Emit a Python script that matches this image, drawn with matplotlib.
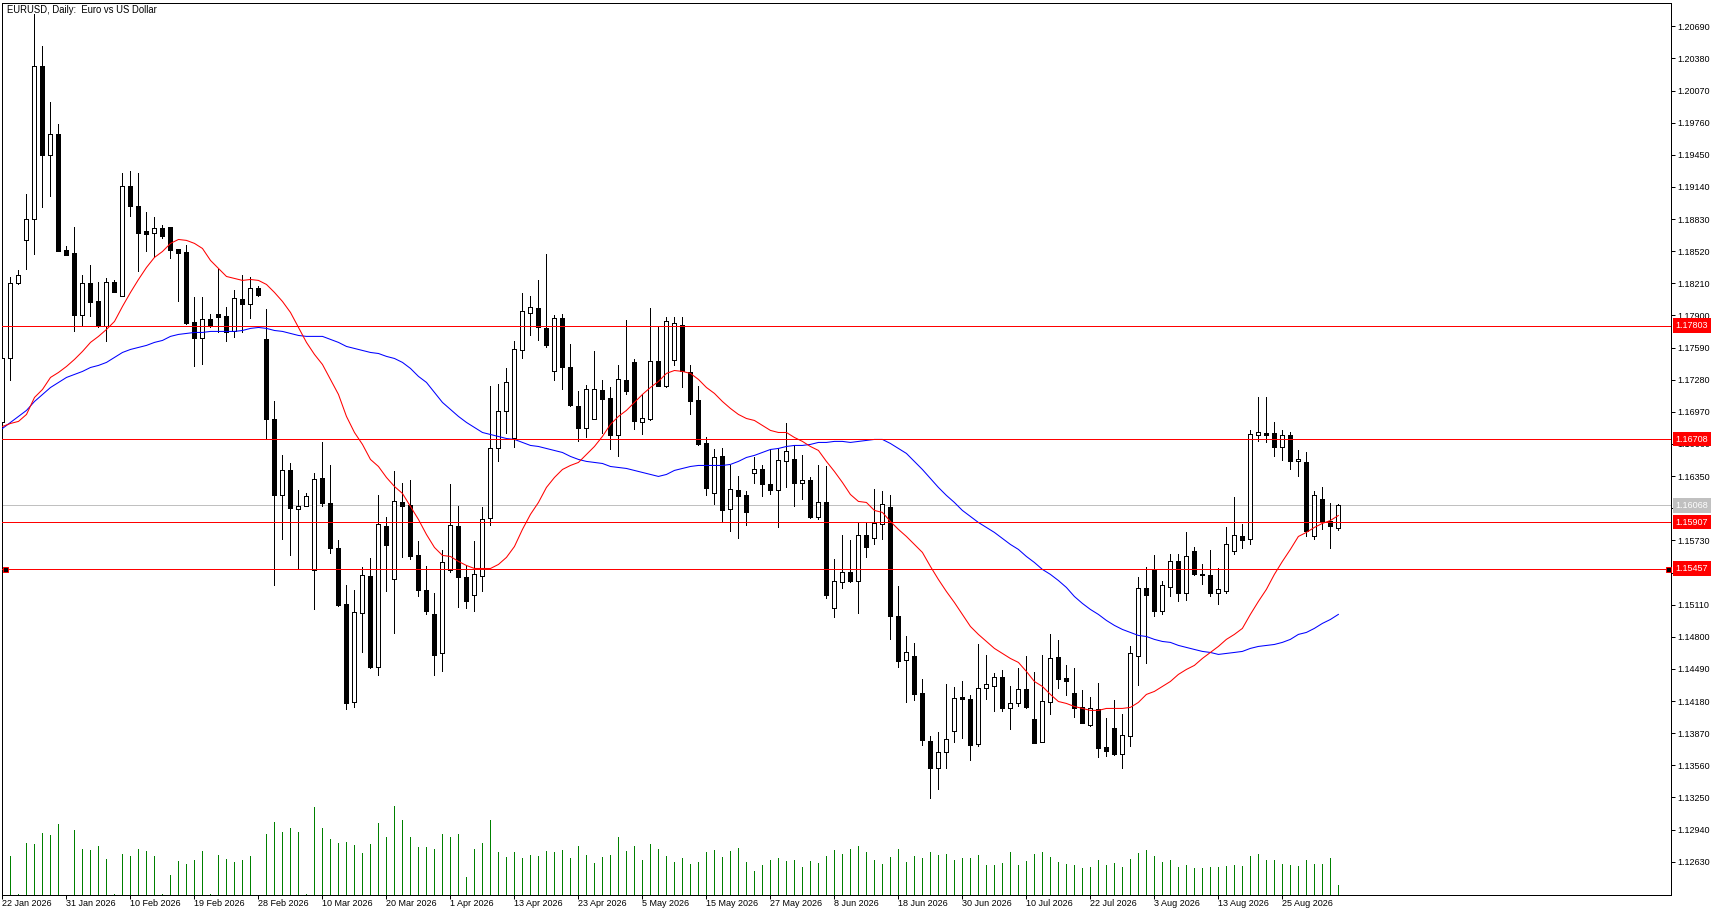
import numpy as np
import matplotlib
matplotlib.use("Agg")
import matplotlib.pyplot as plt
from matplotlib.transforms import blended_transform_factory

plt.rcParams['font.family'] = ['Liberation Sans', 'DejaVu Sans']

opens = [
1.16868,1.17485,1.18209,1.18624,1.18826,1.20302,1.19444,1.19646,1.18527,1.18498,
1.17900,1.18209,1.18035,1.17794,1.18218,1.18083,1.19145,1.18952,1.18710,1.18691,
1.18739,1.18749,1.18537,1.18508,1.17833,1.17678,1.17862,1.17910,1.17890,1.17746,
1.18054,1.18006,1.18160,1.17669,1.16897,1.16164,1.16405,1.16029,1.16058,1.15440,
1.16328,1.16087,1.15652,1.15112,1.14167,1.15025,1.15382,1.14504,1.15865,1.15353,
1.16096,1.16067,1.15585,1.15247,1.15016,1.14639,1.15440,1.15865,1.15373,1.15208,
1.15382,1.15942,1.16617,1.16974,1.16713,1.17562,1.17919,1.17968,1.17775,1.17360,
1.17871,1.17398,1.17022,1.16810,1.16897,1.17177,1.17099,1.16742,1.17273,1.17447,
1.16868,1.16897,1.17456,1.17215,1.17466,1.17804,1.17350,1.17080,1.16665,1.16183,
1.16540,1.16029,1.16212,1.16164,1.16376,1.16414,1.16270,1.16212,1.16492,1.16520,
1.16279,1.16308,1.15951,1.16096,1.15074,1.15324,1.15421,1.15343,1.15778,1.15749,
1.15884,1.16048,1.14996,1.14572,1.14610,1.14254,1.13790,1.13530,1.13684,1.13887,
1.14215,1.14196,1.13762,1.14302,1.14321,1.14408,1.14109,1.14157,1.14292,1.14003,
1.13781,1.14167,1.14601,1.14398,1.14254,1.14119,1.13945,1.14099,1.13733,1.13925,
1.13665,1.13839,1.14610,1.15266,1.15440,1.15045,1.15276,1.15527,1.15227,1.15623,
1.15402,1.15392,1.15227,1.15237,1.15623,1.15768,1.15739,1.16742,1.16762,1.16762,
1.16627,1.16742,1.16492,1.16482,1.15768,1.16125,1.15913,1.15845]

highs = [
1.17485,1.18267,1.18334,1.19067,1.20804,1.20495,1.19955,1.19743,1.18566,1.18749,
1.18286,1.18382,1.18218,1.18257,1.18238,1.19270,1.19289,1.19270,1.18894,1.18845,
1.18768,1.18749,1.18537,1.18575,1.18074,1.18074,1.17910,1.18344,1.17977,1.18141,
1.18286,1.18267,1.18180,1.17958,1.17070,1.16550,1.16472,1.16212,1.16183,1.16376,
1.16675,1.16453,1.15730,1.15295,1.15247,1.15469,1.15556,1.16164,1.15951,1.16395,
1.16279,1.16308,1.15720,1.15479,1.15218,1.15633,1.16270,1.16058,1.15488,1.15720,
1.16048,1.17215,1.17234,1.17389,1.17649,1.18112,1.18083,1.18238,1.18489,1.17900,
1.17910,1.17620,1.17167,1.17225,1.17553,1.17273,1.17205,1.17418,1.17852,1.17476,
1.17138,1.17968,1.17784,1.17881,1.17881,1.17881,1.17418,1.17215,1.16723,1.16607,
1.16617,1.16453,1.16356,1.16202,1.16530,1.16453,1.16607,1.16617,1.16858,1.16646,
1.16550,1.16337,1.16453,1.16443,1.15546,1.15778,1.15730,1.15894,1.15894,1.16222,
1.16202,1.16164,1.15286,1.14803,1.14736,1.14389,1.13839,1.13877,1.14340,1.14311,
1.14369,1.14234,1.14726,1.14620,1.14447,1.14476,1.14321,1.14495,1.14610,1.14456,
1.14620,1.14823,1.14765,1.14524,1.14495,1.14282,1.14215,1.14359,1.14012,1.14186,
1.14051,1.14707,1.15373,1.15469,1.15585,1.15343,1.15594,1.15594,1.15807,1.15662,
1.15498,1.15633,1.15459,1.15855,1.16144,1.15884,1.16791,1.17109,1.17109,1.16868,
1.16791,1.16771,1.16598,1.16578,1.16202,1.16241,1.16087,1.16077]

lows = [
1.16868,1.17273,1.18199,1.18344,1.18489,1.18942,1.19048,1.18517,1.18479,1.17746,
1.17794,1.17890,1.17784,1.17649,1.18122,1.18083,1.18855,1.18325,1.18517,1.18460,
1.18643,1.18450,1.18035,1.17813,1.17408,1.17427,1.17784,1.17736,1.17649,1.17688,
1.17736,1.17871,1.18083,1.16713,1.15295,1.15739,1.15585,1.15459,1.16058,1.15064,
1.16058,1.15604,1.15093,1.14099,1.14119,1.14649,1.14495,1.14427,1.15237,1.14832,
1.15566,1.15546,1.15189,1.15016,1.14427,1.14466,1.15421,1.15083,1.15074,1.15045,
1.15237,1.15874,1.16492,1.16762,1.16627,1.17485,1.17707,1.17659,1.17591,1.17273,
1.17186,1.17022,1.16685,1.16723,1.16897,1.16762,1.16607,1.16540,1.17138,1.16800,
1.16752,1.16887,1.17215,1.17205,1.17418,1.17205,1.16945,1.16646,1.16164,1.16077,
1.15913,1.15816,1.15749,1.15874,1.16279,1.16154,1.16173,1.15855,1.16241,1.16058,
1.16125,1.15942,1.15932,1.15170,1.14987,1.15266,1.15324,1.15025,1.15566,1.15700,
1.15739,1.14775,1.14504,1.14167,1.14186,1.13752,1.13241,1.13327,1.13530,1.13781,
1.13819,1.13607,1.13742,1.14196,1.14080,1.14080,1.13906,1.14128,1.14109,1.13771,
1.13781,1.14051,1.14302,1.14234,1.14022,1.13964,1.13935,1.13636,1.13646,1.13655,
1.13530,1.13742,1.14331,1.14543,1.14996,1.15016,1.15189,1.15141,1.15151,1.15392,
1.15305,1.15189,1.15112,1.15227,1.15594,1.15652,1.15691,1.16685,1.16675,1.16540,
1.16501,1.16414,1.16356,1.15768,1.15739,1.15836,1.15652,1.15826]

closes = [
1.17485,1.18209,1.18286,1.18826,1.20302,1.19444,1.19646,1.18517,1.18479,1.17900,
1.18209,1.18025,1.17794,1.18218,1.18131,1.19145,1.18952,1.18691,1.18681,1.18739,
1.18662,1.18527,1.18498,1.17823,1.17678,1.17862,1.17794,1.17881,1.17736,1.18064,
1.18006,1.18160,1.18093,1.16897,1.16164,1.16405,1.16038,1.16058,1.16154,1.16318,
1.16087,1.15652,1.15102,1.14157,1.15035,1.15392,1.14504,1.15884,1.15681,1.16106,
1.16058,1.15575,1.15247,1.15045,1.14620,1.15517,1.15874,1.15373,1.15141,1.15402,
1.15932,1.16617,1.16974,1.17254,1.17572,1.17939,1.17977,1.17784,1.17611,1.17871,
1.17398,1.17032,1.16810,1.17186,1.17186,1.17090,1.16742,1.17283,1.17167,1.16878,
1.16906,1.17456,1.17215,1.17842,1.17823,1.17360,1.17070,1.16656,1.16231,1.16530,
1.16019,1.16222,1.16154,1.16000,1.16414,1.16270,1.16212,1.16501,1.16588,1.16279,
1.16308,1.15951,1.16096,1.15199,1.15334,1.15421,1.15334,1.15778,1.15662,1.15894,
1.16077,1.14996,1.14562,1.14649,1.14244,1.13800,1.13530,1.13684,1.13810,1.14205,
1.14196,1.13752,1.14302,1.14340,1.14408,1.14109,1.14157,1.14292,1.14119,1.13771,
1.14176,1.14591,1.14389,1.14369,1.14109,1.13964,1.14109,1.13723,1.13694,1.13665,
1.13848,1.14639,1.15266,1.15208,1.15045,1.15295,1.15527,1.15227,1.15575,1.15402,
1.15400,1.15227,1.15257,1.15700,1.15778,1.15730,1.16752,1.16771,1.16742,1.16627,
1.16742,1.16492,1.16520,1.15816,1.16164,1.15903,1.15865,1.16068]

ma_fast = [
1.16829,1.16858,1.16878,1.16945,1.17109,1.17186,1.17302,1.17350,1.17408,1.17476,
1.17553,1.17640,1.17698,1.17765,1.17842,1.17987,1.18122,1.18247,1.18363,1.18460,
1.18517,1.18595,1.18633,1.18624,1.18595,1.18546,1.18431,1.18353,1.18276,1.18257,
1.18238,1.18247,1.18238,1.18199,1.18122,1.18035,1.17929,1.17784,1.17640,1.17524,
1.17427,1.17283,1.17138,1.16926,1.16771,1.16656,1.16511,1.16443,1.16337,1.16250,
1.16183,1.16058,1.15932,1.15787,1.15662,1.15585,1.15575,1.15527,1.15488,1.15459,
1.15459,1.15459,1.15498,1.15566,1.15671,1.15836,1.15981,1.16096,1.16241,1.16337,
1.16414,1.16453,1.16482,1.16559,1.16636,1.16733,1.16849,1.16926,1.16984,1.17061,
1.17138,1.17205,1.17263,1.17341,1.17369,1.17360,1.17341,1.17283,1.17205,1.17148,
1.17070,1.17003,1.16945,1.16906,1.16887,1.16839,1.16791,1.16771,1.16771,1.16723,
1.16685,1.16636,1.16598,1.16492,1.16395,1.16289,1.16173,1.16106,1.16096,1.16019,
1.16000,1.15913,1.15836,1.15768,1.15691,1.15614,1.15479,1.15353,1.15237,1.15131,
1.15016,1.14900,1.14823,1.14755,1.14688,1.14639,1.14591,1.14553,1.14466,1.14369,
1.14321,1.14244,1.14176,1.14157,1.14128,1.14109,1.14090,1.14090,1.14109,1.14109,
1.14109,1.14119,1.14167,1.14244,1.14273,1.14321,1.14369,1.14437,1.14485,1.14524,
1.14591,1.14649,1.14707,1.14775,1.14823,1.14881,1.15016,1.15141,1.15257,1.15402,
1.15527,1.15643,1.15768,1.15807,1.15855,1.15894,1.15922,1.15970]

ma_slow = [
1.16810,1.16868,1.16926,1.16984,1.17070,1.17138,1.17205,1.17254,1.17302,1.17331,
1.17360,1.17398,1.17418,1.17447,1.17495,1.17543,1.17572,1.17591,1.17611,1.17640,
1.17659,1.17698,1.17717,1.17727,1.17736,1.17736,1.17746,1.17746,1.17746,1.17746,
1.17755,1.17775,1.17784,1.17775,1.17755,1.17746,1.17727,1.17707,1.17698,1.17698,
1.17698,1.17669,1.17640,1.17601,1.17582,1.17562,1.17543,1.17533,1.17505,1.17485,
1.17447,1.17389,1.17312,1.17254,
1.17157,1.17061,1.16993,1.16926,1.16868,1.16820,1.16771,1.16752,1.16733,1.16713,
1.16704,1.16675,1.16646,1.16636,1.16617,1.16598,1.16578,1.16540,1.16511,1.16492,
1.16482,1.16472,1.16443,1.16433,1.16424,1.16405,1.16385,1.16366,1.16347,1.16366,
1.16405,1.16424,1.16443,1.16453,1.16453,1.16453,1.16453,1.16463,1.16492,1.16530,
1.16550,1.16578,1.16607,1.16617,1.16636,1.16646,1.16646,1.16656,1.16675,1.16675,
1.16685,1.16685,1.16675,1.16685,1.16694,1.16704,1.16704,1.16665,1.16617,1.16569,
1.16492,1.16414,1.16328,1.16241,1.16164,1.16096,1.16019,1.15961,1.15903,1.15855,
1.15807,1.15749,1.15691,1.15643,1.15575,1.15517,1.15450,1.15402,1.15343,1.15276,
1.15189,1.15122,1.15064,1.15016,1.14958,1.14910,1.14871,1.14842,1.14813,1.14803,
1.14775,1.14755,1.14746,1.14717,1.14697,1.14678,1.14659,1.14649,1.14630,1.14639,
1.14649,1.14659,1.14688,1.14707,1.14717,1.14726,1.14746,1.14775,1.14823,1.14842,
1.14881,1.14929,1.14967,1.15016]

# tick volume, thousands
volumes = [
0,39,1,52,51,62,60,71,0,65,46,45,49,36,1,41,39,46,44,39,1,20,34,31,35,44,1,40,36,33,
35,39,0,61,73,63,67,63,1,88,67,56,52,53,50,42,51,72,58,89,75,58,48,48,46,61,58,61,18,46,
52,75,43,38,43,37,40,39,44,43,45,37,49,40,32,38,40,58,44,49,35,51,46,39,33,37,31,33,43,45,
38,44,47,33,24,30,35,37,34,35,28,34,32,39,45,41,46,49,43,35,31,38,46,33,39,37,43,40,41,35,
37,37,40,30,30,32,43,30,34,41,43,38,33,31,30,27,28,35,30,32,28,36,42,45,39,33,35,28,30,27,
27,28,28,29,30,29,39,41,35,35,31,30,29,35,31,31,37,10]

date_labels = ['22 Jan 2026','31 Jan 2026','10 Feb 2026','19 Feb 2026','28 Feb 2026','10 Mar 2026',
               '20 Mar 2026','1 Apr 2026','13 Apr 2026','23 Apr 2026','5 May 2026','15 May 2026',
               '27 May 2026','8 Jun 2026','18 Jun 2026','30 Jun 2026','10 Jul 2026','22 Jul 2026',
               '3 Aug 2026','13 Aug 2026','25 Aug 2026']
price_ticks = [1.20690,1.20380,1.20070,1.19760,1.19450,1.19140,1.18830,1.18520,1.18210,
               1.17900,1.17590,1.17280,1.16970,1.16660,1.16350,1.16040,1.15730,1.15420,
               1.15110,1.14800,1.14490,1.14180,1.13870,1.13560,1.13250,1.12940,1.12630]
levels = [1.17803, 1.16708, 1.15907, 1.15457]
last_price = 1.16068
title_text = 'EURUSD, Daily:  Euro vs US Dollar'

W, H = 1724, 915
PX = 72 / 100  # one pixel in points
FS = 6.5
fig = plt.figure(figsize=(W / 100, H / 100), dpi=100, facecolor='white')
rect = [2.5 / W, (H - 894.5) / H, 1669 / W, 892 / H]
ax = fig.add_axes(rect, facecolor='white')

n = len(closes)
xs = np.arange(n)
o, h, l, c = map(np.array, (opens, highs, lows, closes))
assert len(opens) == len(highs) == len(lows) == n == len(ma_fast) == len(ma_slow) == len(volumes)

# 8 px per candle, first candle centre 2.33 px from the figure edge
ax.set_xlim((2.5 - 2.33) / 8, (1671.5 - 2.33) / 8)
ax.set_ylim(1.12314, 1.20919)

# volume pane
vax = fig.add_axes(rect, facecolor='none', zorder=0.5)
vax.set_xlim(ax.get_xlim())
vax.set_ylim(0, 892)
vax.axis('off')
vax.vlines(xs, 0, volumes, colors='#008000', linewidth=PX, antialiased=False)
ax.set_zorder(1)
ax.patch.set_alpha(0)

# levels and last price
ax.axhline(last_price, color='#C0C0C0', lw=PX, zorder=1, antialiased=False)

ax.vlines(xs, l, h, colors='black', linewidth=PX, zorder=2, antialiased=False)
up = c >= o
ax.bar(xs[up], (c - o)[up], bottom=o[up], width=0.5, facecolor='white', edgecolor='black',
       linewidth=PX, zorder=3, antialiased=False)
ax.bar(xs[~up], (o - c)[~up], bottom=c[~up], width=0.5, facecolor='black', edgecolor='black',
       linewidth=PX, zorder=3, antialiased=False)

ax.plot(xs, ma_slow, color='#0000FF', lw=0.75, zorder=4, antialiased=True, solid_joinstyle='miter')
ax.plot(xs, ma_fast, color='#FF0000', lw=0.75, zorder=4, antialiased=True, solid_joinstyle='miter')
for lv in levels:
    ax.axhline(lv, color='#FF0000', lw=PX, zorder=5, antialiased=False)

# selected-object anchors on the lowest level
tr = blended_transform_factory(ax.transAxes, ax.transData)
ax.plot([(5.3 - 2.5) / 1669, (1668.3 - 2.5) / 1669], [levels[-1]] * 2, ls='none', marker='s', ms=3.6,
        mfc='black', mec='#FF0000', mew=PX, transform=tr, zorder=6, clip_on=False)

# axes
for s in ax.spines.values():
    s.set_linewidth(PX)
    s.set_color('black')
ax.yaxis.tick_right()
ax.set_yticks(price_ticks)
ax.set_yticklabels([f'{p:.5f}' for p in price_ticks], fontsize=FS)
ax.set_xticks(xs[::8])
ax.set_xticklabels(date_labels, fontsize=FS, ha='left')
ax.tick_params(axis='y', direction='out', length=4 * PX, width=PX, pad=1.0)
ax.tick_params(axis='x', direction='out', length=4 * PX, width=PX, pad=0.6)

# price tags
for p, col in [(lv, '#FF0000') for lv in levels] + [(last_price, '#C0C0C0')]:
    ax.text(1 + 3.8 / 1669, p, f'{p:.5f}', transform=tr, ha='left', va='center', fontsize=FS,
            color='white', clip_on=False, zorder=7,
            bbox=dict(facecolor=col, edgecolor=col, boxstyle='square,pad=0.3', linewidth=0))

ax.text((6.7 - 2.5) / 1669, (894.5 - 10) / 892, title_text, transform=ax.transAxes, ha='left',
        va='center', fontsize=6.85, color='black', zorder=8)

fig.savefig('out.png', dpi=100, facecolor='white')
